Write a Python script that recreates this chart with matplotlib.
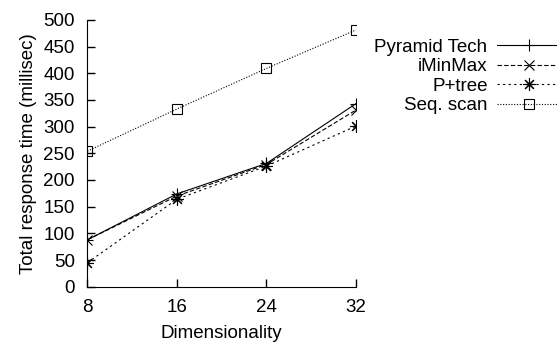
import matplotlib
matplotlib.use("Agg")
import matplotlib.pyplot as plt

plt.rcParams['font.family'] = ['Liberation Sans', 'DejaVu Sans']

dims = [8, 16, 24, 32]
pyramid = [88, 174, 231, 343]
iminmax = [88, 170, 229, 331]
ptree = [45, 164, 226, 301]
seqscan = [254, 333, 409, 481]

fig = plt.figure(figsize=(5.57, 3.48), dpi=100)
ax = fig.add_axes([0.157, 0.176, 0.482, 0.767])

ax.plot(dims, pyramid, color='black', lw=0.8, ls='-', marker='+', ms=8,
        mew=0.8, label='Pyramid Tech')
ax.plot(dims, iminmax, color='black', lw=0.8, ls=(0, (4, 2)), marker='x', ms=7,
        mew=0.8, label='iMinMax')
ax.plot(dims, ptree, color='black', lw=0.8, ls=(0, (2, 3)), marker=(8, 2, 0),
        ms=9, mew=0.8, label='P+tree')
ax.plot(dims, seqscan, color='black', lw=0.8, ls=(0, (1, 1.5)), marker='s',
        ms=6.5, mew=0.8, mfc='none', label='Seq. scan')

ax.set_xlim(8, 32)
ax.set_ylim(0, 500)
ax.set_xticks(dims)
ax.set_yticks(range(0, 501, 50))
ax.spines['top'].set_visible(False)
ax.spines['right'].set_visible(False)
ax.tick_params(direction='in', length=6, labelsize=13.5, width=1)
ax.tick_params(axis='x', pad=9)
ax.tick_params(axis='y', pad=9)
ax.set_xlabel('Dimensionality', fontsize=13.5, labelpad=6)
ax.set_ylabel('Total response time (millisec)', fontsize=13.5, labelpad=5)

fig.legend(loc='upper right', bbox_to_anchor=(1.02, 0.91), frameon=False,
           markerfirst=False, fontsize=13.5, handlelength=3.4, labelspacing=0.12,
           handletextpad=0.5, borderaxespad=0)

fig.savefig('out.png', dpi=100)
